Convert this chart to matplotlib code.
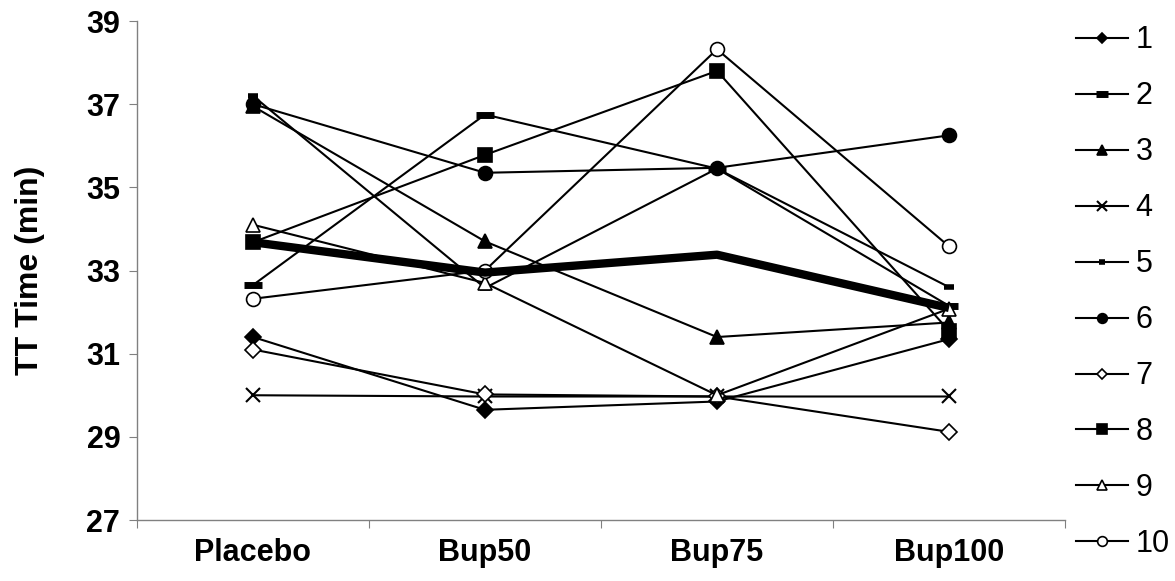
import numpy as np
import matplotlib
matplotlib.use("Agg")
import matplotlib.pyplot as plt

plt.rcParams['font.family'] = ['Liberation Sans', 'DejaVu Sans']

# conditions on the x axis
conditions = ["Placebo", "Bup50", "Bup75", "Bup100"]

# TT time (min) per subject
s1 = [31.4, 29.65, 29.85, 31.35]
s2 = [32.65, 36.75, 35.45, 32.15]
s3 = [36.95, 33.7, 31.4, 31.75]
s4 = [30.0, 29.97, 29.97, 29.97]
s5 = [37.2, 32.58, 35.45, 32.6]
s6 = [37.0, 35.35, 35.47, 36.25]
s7 = [31.1, 30.02, 29.97, 29.12]
s8 = [33.68, 35.78, 37.8, 31.55]
s9 = [34.1, 32.7, 30.0, 32.08]
s10 = [32.32, 33.0, 38.32, 33.58]
mean_line = [33.68, 32.95, 33.38, 32.1]

subjects = ["1", "2", "3", "4", "5", "6", "7", "8", "9", "10"]
series = [s1, s2, s3, s4, s5, s6, s7, s8, s9, s10]

# marker styles: (marker, size, facecolor, edgewidth)
styles = [
    ("D", 8, "black", 1.2),
    ("_", 13, "black", 5),
    ("^", 10, "black", 1.2),
    ("x", 10, "black", 1.5),
    ("_", 7, "black", 4),
    ("o", 10, "black", 1.2),
    ("D", 8, "white", 1.2),
    ("s", 10, "black", 1.2),
    ("^", 10, "white", 1.2),
    ("o", 10, "white", 1.2),
]

fig = plt.figure(figsize=(11.75, 5.81), dpi=100)
ax = fig.add_axes([137 / 1175, 1 - 520 / 581, (1065 - 137) / 1175, (520 - 21) / 581])

x = np.arange(len(conditions))
for vals, name, (mk, ms, fc, mew) in zip(series, subjects, styles):
    ax.plot(x, vals, color="black", lw=1.5, marker=mk, markersize=ms,
            markerfacecolor=fc, markeredgecolor="black", markeredgewidth=mew,
            label=name, zorder=3)

ax.plot(x, mean_line, color="black", lw=6, solid_capstyle="butt",
        label="_nolegend_", zorder=4)

ax.set_xlim(-0.5, 3.5)
ax.set_ylim(27, 39)
ax.set_yticks(np.arange(27, 40, 2))
ax.set_xticks(np.arange(-0.5, 4, 1))
ax.set_xticklabels([])
ax.set_xticks(x, minor=True)
ax.set_xticklabels(conditions, minor=True)
ax.tick_params(axis="x", which="minor", length=0, pad=13, labelsize=22)
ax.tick_params(axis="x", which="major", length=6, color="#808080")
ax.tick_params(axis="y", length=6, color="#808080", labelsize=22, pad=6)
for lab in ax.get_xticklabels(minor=True) + ax.get_yticklabels():
    lab.set_fontweight("bold")

for side in ["top", "right"]:
    ax.spines[side].set_visible(False)
for side in ["left", "bottom"]:
    ax.spines[side].set_color("#808080")
    ax.spines[side].set_linewidth(1)

ax.set_ylabel("TT Time (min)", fontsize=23, fontweight="bold", labelpad=30)

fig.legend(loc="center left", bbox_to_anchor=(1076 / 1175, 0.497), frameon=False,
           fontsize=22, markerscale=0.7, handlelength=1.7, handletextpad=0.25,
           labelspacing=0.85, borderaxespad=0, borderpad=0)

fig.savefig("out.png", dpi=100)
